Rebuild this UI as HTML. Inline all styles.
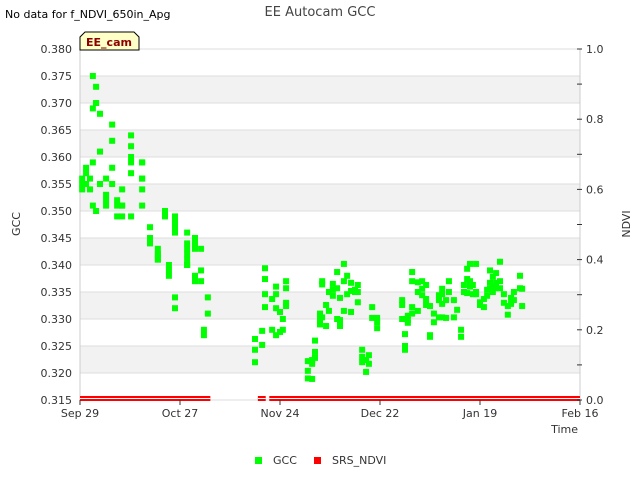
<!DOCTYPE html>
<html><head><meta charset="utf-8"><style>
body{margin:0;background:#fff;font-family:"Liberation Sans","DejaVu Sans",sans-serif;}
svg text{font-family:"DejaVu Sans","Liberation Sans",sans-serif;}
</style></head><body>
<svg id="c" width="640" height="480" viewBox="0 0 640 480" xmlns="http://www.w3.org/2000/svg">
<rect width="640" height="480" fill="#fff"/>
<text x="5" y="18" font-size="11" fill="#000">No data for f_NDVI_650in_Apg</text>
<text x="320" y="16" font-size="13" fill="#444" text-anchor="middle">EE Autocam GCC</text>
<g id="bands"></g>
<g id="grid"></g>
<g id="ndvi"></g>
<g id="gcc"></g>
<g id="axes"></g>
<g>
<path d="M80,50 L80,37 L85,32 L134,32 L139,37 L139,50 Z" fill="#ffffc8" stroke="#000" stroke-width="1"/>
<text x="109" y="46" font-size="11" font-weight="bold" fill="#8b0000" text-anchor="middle">EE_cam</text>
</g>
<text x="20" y="224" font-size="11" fill="#333" text-anchor="middle" transform="rotate(-90 20 224)">GCC</text>
<text x="630" y="224" font-size="11" fill="#333" text-anchor="middle" transform="rotate(-90 630 224)">NDVI</text>
<text x="578" y="433" font-size="11" fill="#333" text-anchor="end">Time</text>
<g>
<g><rect x="255" y="457" width="7" height="7" fill="#00ff00"/><text x="273" y="464" font-size="11" fill="#333">GCC</text></g>
<g><rect x="314" y="457" width="7" height="7" fill="#ff0000"/><text x="332" y="464" font-size="11" fill="#333">SRS_NDVI</text></g>
</g>
</svg>
<script>
const xTickLabels=["Sep 29","Oct 27","Nov 24","Dec 22","Jan 19","Feb 16"];
const xTickDays=[0,28,56,84,112,140];
const yTicks=[0.315,0.320,0.325,0.330,0.335,0.340,0.345,0.350,0.355,0.360,0.365,0.370,0.375,0.380];
const y2Ticks=[0,0.2,0.4,0.6,0.8,1.0];
const gccDay=[0.6,0.6,0.6,1.7,1.7,1.7,2.8,2.8,3.6,3.6,3.6,3.6,4.5,4.5,4.5,4.5,5.6,5.6,5.6,5.6,7.3,7.3,7.3,7.3,9.0,9.0,9.0,9.0,10.4,10.4,10.4,11.8,11.8,11.8,11.8,14.3,14.3,14.3,14.3,14.3,14.3,17.4,17.4,17.4,17.4,17.4,17.4,19.6,19.6,19.6,21.8,21.8,21.8,21.8,21.8,23.8,23.8,24.9,24.9,24.9,26.6,26.6,26.6,26.6,26.6,26.6,30.0,30.0,30.0,30.0,30.0,30.0,30.0,32.2,32.2,32.2,32.2,32.2,33.9,33.9,33.9,34.7,34.7,35.8,35.8,
49.0,49.0,49.0,51.0,51.0,51.8,51.8,51.8,51.8,53.8,53.8,54.9,54.9,54.9,54.9,56,56,56.8,56.8,57.7,57.7,57.7,57.7,63.8,63.8,63.8,65,65,65,65.8,65.8,65.8,67.2,67.2,67.2,67.8,67.8,67.8,68.9,68.9,69.7,69.7,70.8,70.8,70.8,72,72,72,72.8,72.8,72.8,73.9,73.9,73.9,74.8,74.8,75.9,75.9,75.9,77,77,77.8,77.8,77.8,79,79,79,80.1,80.1,80.9,80.9,81.8,81.8,83.2,83.2,83.2,
90.2,90.2,90.2,91,91,91,91.8,91.8,91.8,93,93,93,93,94.6,94.6,94.6,95.8,95.8,95.8,96.9,96.9,96.9,98,98,98,99.1,99.1,100.5,100.5,100.5,101.4,101.4,101.4,101.4,102.5,102.5,103.3,103.3,104.7,104.7,105.6,106.7,106.7,107.5,107.5,108.4,108.4,108.4,109.2,109.2,109.2,110,110,110.9,110.9,110.9,112,112,113.1,113.1,114,114,114.8,114.8,114.8,115.6,115.6,115.6,116.5,116.5,116.5,117.6,117.6,117.6,118.7,118.7,119.8,119.8,120.7,120.7,121.5,121.5,123.2,123.2,123.8,123.8];
const gccVal=[0.356,0.355,0.354,0.358,0.355,0.357,0.356,0.354,0.375,0.369,0.359,0.351,0.373,0.370,0.370,0.350,0.368,0.361,0.355,0.355,0.356,0.353,0.352,0.351,0.366,0.363,0.358,0.355,0.352,0.351,0.349,0.354,0.351,0.351,0.349,0.364,0.362,0.360,0.359,0.357,0.349,0.359,0.356,0.356,0.354,0.351,0.359,0.347,0.345,0.344,0.342,0.341,0.341,0.342,0.343,0.350,0.349,0.340,0.339,0.338,0.349,0.348,0.347,0.346,0.334,0.332,0.346,0.344,0.343,0.342,0.340,0.340,0.341,0.345,0.344,0.343,0.338,0.337,0.343,0.339,0.337,0.328,0.327,0.334,0.331,
0.3263,0.3243,0.322,0.3278,0.3252,0.3394,0.3374,0.3346,0.3322,0.3337,0.328,0.336,0.3346,0.332,0.327,0.3313,0.3276,0.330,0.328,0.337,0.3357,0.333,0.3324,0.3222,0.3204,0.319,0.3224,0.3217,0.3189,0.326,0.3239,0.3228,0.331,0.330,0.329,0.337,0.3364,0.3303,0.3326,0.3287,0.335,0.3315,0.3365,0.3354,0.3343,0.3387,0.3357,0.330,0.3339,0.3298,0.3287,0.3402,0.3370,0.3315,0.338,0.3346,0.3367,0.3352,0.3313,0.3354,0.335,0.3363,0.335,0.3331,0.3243,0.323,0.322,0.3224,0.3202,0.3233,0.3217,0.3322,0.3302,0.3302,0.3294,0.3283,
0.3335,0.3326,0.330,0.3272,0.325,0.3243,0.3306,0.3298,0.3293,0.3387,0.337,0.3322,0.331,0.3368,0.335,0.3315,0.337,0.3356,0.3344,0.3363,0.3337,0.3326,0.3324,0.327,0.3267,0.331,0.3294,0.3344,0.3335,0.3303,0.3356,0.3346,0.3328,0.3303,0.3335,0.3302,0.337,0.335,0.3303,0.3335,0.3317,0.328,0.3267,0.3363,0.335,0.3393,0.3374,0.3348,0.3402,0.337,0.336,0.3363,0.3346,0.3402,0.335,0.3346,0.3331,0.3326,0.3337,0.3322,0.3354,0.3343,0.339,0.3367,0.3356,0.3378,0.336,0.335,0.3385,0.3367,0.3357,0.3406,0.337,0.3357,0.3346,0.333,0.3324,0.3308,0.3328,0.3339,0.335,0.3335,0.338,0.3357,0.3356,0.3324];
const ndviStart=[0,49.8,53];
const ndviEnd=[36.5,52,140];
const ndviLevel=[0,0,0];

const NS="http://www.w3.org/2000/svg";
const X0=80,X1=580,Y0=400,Y1=49;
const xs=d=>X0+(d-0)/(140-0)*(X1-X0);
const ys=v=>Y0-(v-0.315)/(0.380-0.315)*(Y0-Y1);
const y2=v=>Y0-v*(Y0-Y1);
function mk(t,a,p){const e=document.createElementNS(NS,t);for(const k in a)e.setAttribute(k,a[k]);p.appendChild(e);return e;}
const bands=document.getElementById('bands'),grid=document.getElementById('grid'),axes=document.getElementById('axes');
for(let i=0;i<yTicks.length-1;i++){
  if(i%2===1){const r=mk('rect',{x:X0,y:ys(yTicks[i+1]),width:X1-X0,height:ys(yTicks[i])-ys(yTicks[i+1]),fill:'#f2f2f2'},bands);
  
  }
}
yTicks.forEach(v=>{
  const l=mk('line',{x1:X0,x2:X1,y1:ys(v),y2:ys(v),stroke:'#ddd','stroke-width':1},grid);
  
  
  const t=mk('text',{x:X0-8,y:ys(v)+4,'font-size':11,fill:'#333','text-anchor':'end'},axes);
  
  
  t.textContent=v.toFixed(3);
});
mk('line',{x1:X0,x2:X0,y1:Y1,y2:Y0,stroke:'#ccc'},grid);
mk('line',{x1:X1,x2:X1,y1:Y1,y2:Y0,stroke:'#ccc'},grid);
xTickDays.forEach((d,i)=>{
  mk('line',{x1:xs(d),x2:xs(d),y1:Y0,y2:Y0+5,stroke:'#333'},axes);
  const t=mk('text',{x:xs(d),y:Y0+17,'font-size':11,fill:'#333','text-anchor':'middle'},axes);
  
  
  t.textContent=xTickLabels[i];
});
for(let k=0;k<=10;k++){mk('line',{x1:X1-3,x2:X1+2,y1:y2(k/10),y2:y2(k/10),stroke:'#333'},axes);}
y2Ticks.forEach(v=>{
  const t=mk('text',{x:X1+6,y:y2(v)+4,'font-size':11,fill:'#333'},axes);
  
  
  t.textContent=v.toFixed(1);
});
const ndvi=document.getElementById('ndvi');
ndviStart.forEach((s,i)=>{
  const r=mk('rect',{x:xs(s),y:y2(ndviLevel[i])-4,width:xs(ndviEnd[i])-xs(s),height:5,fill:'#ff0000'},ndvi);
  
  
  mk('line',{x1:xs(s),x2:xs(ndviEnd[i]),y1:y2(ndviLevel[i])-1.5,y2:y2(ndviLevel[i])-1.5,stroke:'#fff','stroke-width':1},ndvi);
});
const gcc=document.getElementById('gcc');
gccDay.forEach((d,i)=>{
  const r=mk('rect',{x:xs(d)-3,y:ys(gccVal[i])-3,width:6,height:6,fill:'#00ff00'},gcc);
  
  
});
</script>
</body></html>
